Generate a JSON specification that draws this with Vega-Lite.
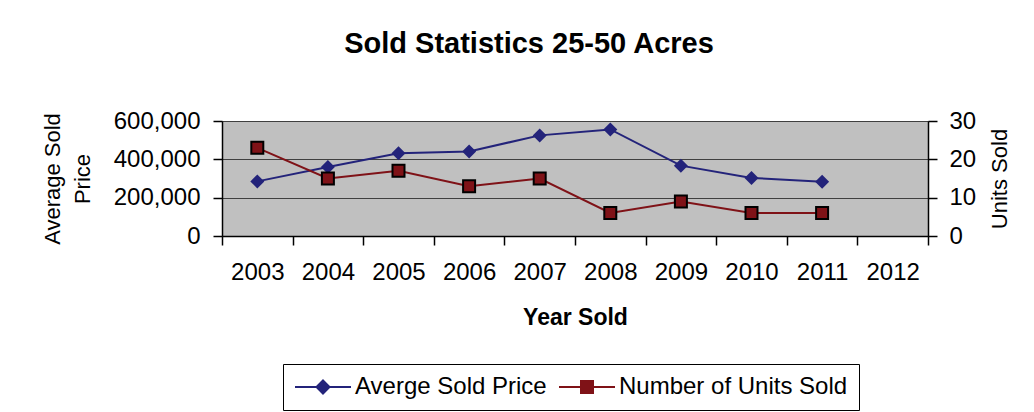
{
  "$schema": "https://vega.github.io/schema/vega-lite/v6.json",
  "width": 706,
  "height": 115,
  "autosize": {"type": "none"},
  "padding": {"left": 222, "top": 121, "right": 106, "bottom": 176},
  "background": "white",
  "config": {
    "font": "Liberation Sans",
    "view": {"fill": "#c0c0c0", "stroke": "#808080", "strokeWidth": 1}
  },
  "title": {
    "text": "Sold Statistics 25-50 Acres",
    "font": "Liberation Sans",
    "fontSize": 29,
    "fontWeight": "bold",
    "color": "#000000",
    "anchor": "middle",
    "frame": "group",
    "dx": -46,
    "offset": 50
  },
  "data": {
    "values": [
      {"year": "2003", "price": 285000, "units": 23},
      {"year": "2004", "price": 360000, "units": 15},
      {"year": "2005", "price": 432000, "units": 17},
      {"year": "2006", "price": 441000, "units": 13},
      {"year": "2007", "price": 525000, "units": 15},
      {"year": "2008", "price": 556000, "units": 6},
      {"year": "2009", "price": 367000, "units": 9},
      {"year": "2010", "price": 303000, "units": 6},
      {"year": "2011", "price": 283000, "units": 6},
      {"year": "2012", "price": null, "units": null}
    ]
  },
  "encoding": {
    "x": {
      "field": "year",
      "type": "ordinal",
      "scale": {
        "domain": ["2003", "2004", "2005", "2006", "2007", "2008", "2009", "2010", "2011", "2012"],
        "paddingInner": 0,
        "paddingOuter": 0
      },
      "axis": {
        "title": "Year Sold",
        "titleFont": "Liberation Sans",
        "titleFontSize": 23,
        "titleFontWeight": "bold",
        "titleColor": "#000000",
        "titlePadding": 22,
        "labelFont": "Liberation Sans",
        "labelFontSize": 24,
        "labelColor": "#000000",
        "labelAngle": 0,
        "labelPadding": 15,
        "labelOverlap": false,
        "tickBand": "extent",
        "tickSize": 9,
        "tickColor": "#000000",
        "tickWidth": 1.5,
        "domainColor": "#000000",
        "domainWidth": 1.5,
        "grid": false
      }
    }
  },
  "layer": [
    {
      "encoding": {
        "y": {
          "field": "price",
          "type": "quantitative",
          "scale": {"domain": [0, 600000], "nice": false},
          "axis": {
            "orient": "left",
            "values": [0, 200000, 400000, 600000],
            "format": ",d",
            "labelOverlap": false,
            "title": ["Average Sold", "Price"],
            "titleFont": "Liberation Sans",
            "titleFontSize": 22,
            "titleFontWeight": "normal",
            "titleColor": "#000000",
            "titlePadding": 19,
            "titleLineHeight": 30,
            "labelFont": "Liberation Sans",
            "labelFontSize": 24,
            "labelColor": "#000000",
            "labelPadding": 13,
            "tickSize": 9,
            "tickColor": "#000000",
            "tickWidth": 1.5,
            "domainColor": "#000000",
            "domainWidth": 1.5,
            "grid": true,
            "gridColor": "#404040",
            "gridWidth": 1
          }
        },
        "color": {
          "datum": "Averge Sold Price",
          "type": "nominal",
          "scale": {
            "domain": ["Averge Sold Price", "Number of Units Sold"],
            "range": ["#23237a", "#7f1217"]
          },
          "legend": {
            "orient": "none",
            "legendX": 61,
            "legendY": 243,
            "direction": "horizontal",
            "title": null,
            "labelFont": "Liberation Sans",
            "labelFontSize": 24,
            "labelColor": "#000000",
            "labelLimit": 0,
            "symbolSize": 400,
            "symbolOffset": 17,
            "labelOffset": 20,
            "columnPadding": 8,
            "padding": 11,
            "strokeColor": "#000000",
            "fillColor": "#ffffff",
            "encode": {
              "symbols": {
                "update": {
                  "shape": {"signal": "datum.value === 'Averge Sold Price' ? 'M-2.8,0L2.8,0M0,-0.65L0.65,0L0,0.65L-0.65,0Z' : 'M-2.8,0L2.8,0M-0.6,-0.6L0.6,-0.6L0.6,0.6L-0.6,0.6Z'"},
                  "fill": {"signal": "datum.value === 'Averge Sold Price' ? '#23237a' : '#7f1217'"},
                  "stroke": {"signal": "datum.value === 'Averge Sold Price' ? '#23237a' : '#7f1217'"},
                  "strokeWidth": {"value": 2},
                  "opacity": {"value": 1},
                  "fillOpacity": {"value": 1}
                }
              }
            }
          }
        }
      },
      "layer": [
        {"mark": {"type": "line", "strokeWidth": 2}},
        {"mark": {"type": "point", "shape": "diamond", "filled": true, "size": 196, "opacity": 1}}
      ]
    },
    {
      "encoding": {
        "y": {
          "field": "units",
          "type": "quantitative",
          "scale": {"domain": [0, 30], "nice": false},
          "axis": {
            "orient": "right",
            "values": [0, 10, 20, 30],
            "labelOverlap": false,
            "title": "Units Sold",
            "titleAngle": -90,
            "titleFont": "Liberation Sans",
            "titleFontSize": 22,
            "titleFontWeight": "normal",
            "titleColor": "#000000",
            "titlePadding": 36,
            "labelFont": "Liberation Sans",
            "labelFontSize": 24,
            "labelColor": "#000000",
            "labelPadding": 12,
            "tickSize": 9,
            "tickColor": "#000000",
            "tickWidth": 1.5,
            "domainColor": "#000000",
            "domainWidth": 1.5,
            "grid": false
          }
        },
        "color": {"datum": "Number of Units Sold", "type": "nominal"}
      },
      "layer": [
        {"mark": {"type": "line", "strokeWidth": 2}},
        {"mark": {"type": "point", "shape": "square", "filled": true, "size": 144, "opacity": 1, "stroke": "#000000", "strokeWidth": 2}}
      ]
    }
  ],
  "resolve": {"scale": {"y": "independent"}}
}
